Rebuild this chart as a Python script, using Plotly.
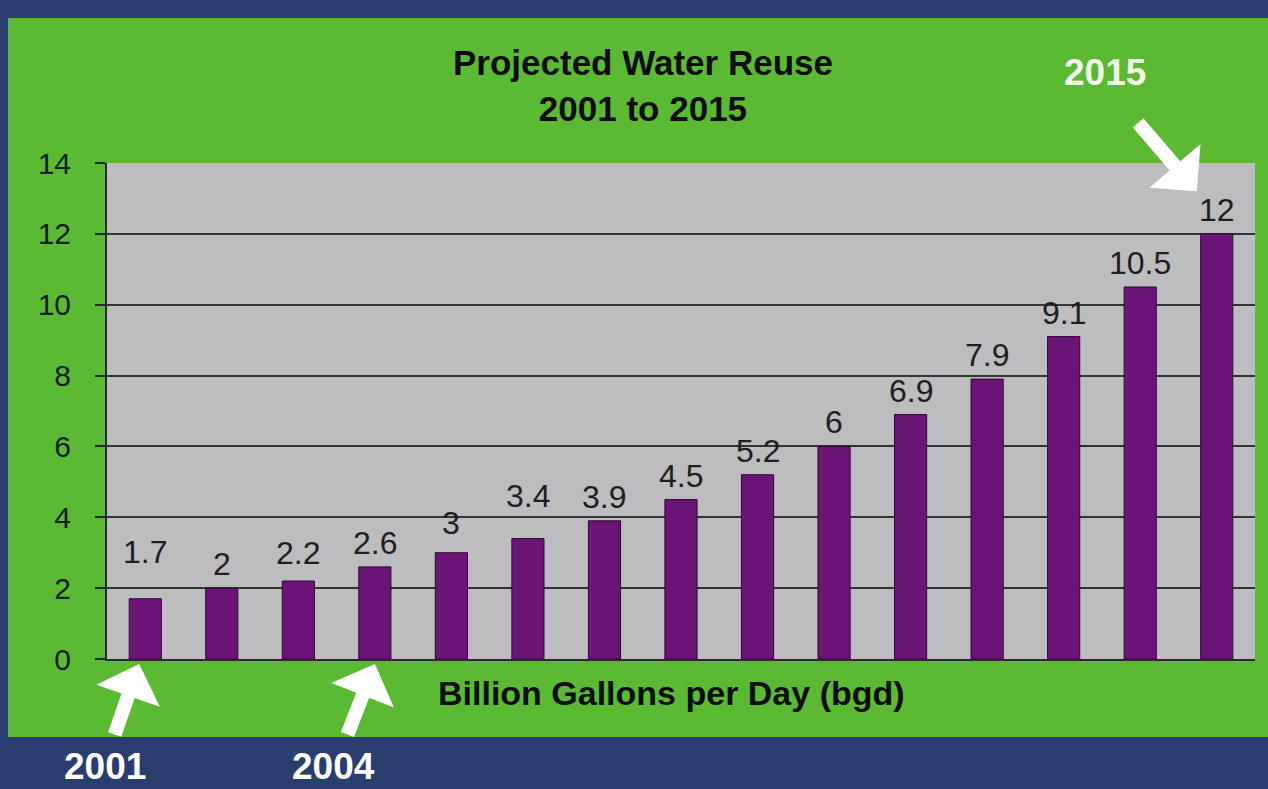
import plotly.graph_objects as go

# ---- data ----
years = [2001, 2002, 2003, 2004, 2005, 2006, 2007, 2008, 2009, 2010, 2011, 2012, 2013, 2014, 2015]
reuse_bgd = [1.7, 2, 2.2, 2.6, 3, 3.4, 3.9, 4.5, 5.2, 6, 6.9, 7.9, 9.1, 10.5, 12]
value_labels = ["1.7", "2", "2.2", "2.6", "3", "3.4", "3.9", "4.5", "5.2", "6", "6.9", "7.9", "9.1", "10.5", "12"]
y_ticks = [0, 2, 4, 6, 8, 10, 12, 14]
title_lines = ["Projected Water Reuse", "2001 to 2015"]
axis_title = "Billion Gallons per Day (bgd)"
highlight_years = [2001, 2004, 2015]

# ---- style ----
FONT = "Liberation Sans, Arial, sans-serif"
NAVY = "#293d6e"
GREEN = "#5bb934"
GRAY = "#bdbcbe"
PURPLE = "#6b1577"
DARK = "#1e1e1e"
label_nudge = [23, 0, 4, 0, 6, 19, 0, 0, 0, 0, 0, 0, 0, 0, 0]  # extra px lift per label

W_PLOT, H_PLOT, L, B0 = 1148, 496, 107, 659  # plot-area pixel geometry for decorations


def px(xp):
    return (xp - L) / W_PLOT


def py(yp):
    return (B0 - yp) / H_PLOT


fig = go.Figure()
fig.add_trace(go.Bar(
    x=years, y=reuse_bgd, width=0.42,
    marker=dict(color=PURPLE, line=dict(color="#2c0832", width=1)),
    hoverinfo="x+y",
))

# value labels
for yr, v, txt, nud in zip(years, reuse_bgd, value_labels, label_nudge):
    fig.add_annotation(x=yr, y=v, text=txt, showarrow=False, xref="x", yref="y",
                       xanchor="center", yanchor="middle", yshift=24 + nud,
                       font=dict(family=FONT, size=32, color=DARK))

# green panel + gray plot area
fig.add_shape(type="rect", xref="paper", yref="paper",
              x0=px(8), x1=px(1275), y0=py(737), y1=py(18),
              fillcolor=GREEN, line=dict(width=0), layer="below")
fig.add_shape(type="rect", xref="paper", yref="paper",
              x0=0, x1=1, y0=0, y1=1,
              fillcolor=GRAY, line=dict(width=0), layer="below")

# title
fig.add_annotation(xref="paper", yref="paper", x=px(643), y=py(85),
                   xanchor="center", yanchor="middle",
                   text="<b>" + "<br>".join(title_lines) + "</b>", showarrow=False,
                   font=dict(family=FONT, size=35, color="#0d0d0d"), align="center")
# axis title
fig.add_annotation(xref="paper", yref="paper", x=px(671), y=py(693),
                   xanchor="center", yanchor="middle",
                   text="<b>" + axis_title + "</b>", showarrow=False,
                   font=dict(family=FONT, size=34, color="#0d0d0d"))

# arrows & year callouts
arrow_style = dict(showarrow=True, arrowhead=1, arrowsize=0.8, arrowwidth=14,
                   arrowcolor="white", text="", axref="pixel", ayref="pixel")
fig.add_annotation(x=highlight_years[0] - 0.08, y=-0.01, xref="x", yref="paper",
                   ax=-25, ay=72, **arrow_style)
fig.add_annotation(x=highlight_years[1] - 0.0, y=-0.01, xref="x", yref="paper",
                   ax=-28, ay=72, **arrow_style)
fig.add_annotation(x=highlight_years[2] - 0.26, y=13.2, xref="x", yref="y",
                   ax=-60, ay=-70, **arrow_style)

yr_font = dict(family=FONT, size=37, color="white")
fig.add_annotation(xref="paper", yref="paper", x=px(105), y=py(766),
                   xanchor="center", yanchor="middle", borderpad=0,
                   text="<b>%d</b>" % highlight_years[0], showarrow=False, font=yr_font)
fig.add_annotation(xref="paper", yref="paper", x=px(333), y=py(766),
                   xanchor="center", yanchor="middle", borderpad=0,
                   text="<b>%d</b>" % highlight_years[1], showarrow=False, font=yr_font)
fig.add_annotation(xref="paper", yref="paper", x=px(1105), y=py(72),
                   xanchor="center", yanchor="middle",
                   text="<b>%d</b>" % highlight_years[2], showarrow=False,
                   font=dict(family=FONT, size=37, color="#f2fbea"))

fig.update_layout(
    width=1268, height=789,
    margin=dict(l=107, r=13, t=163, b=130, pad=0),
    paper_bgcolor=NAVY, plot_bgcolor=GRAY,
    showlegend=False, bargap=0.58,
    font=dict(family=FONT, color=DARK),
)
fig.update_xaxes(range=[2000.5, 2015.5], showticklabels=False, ticks="",
                 showgrid=False, zeroline=False, showline=True,
                 linecolor="#2a2a2a", linewidth=2)
fig.update_yaxes(range=[0, 14], tickvals=y_ticks, showgrid=True,
                 gridcolor="#333333", gridwidth=2, zeroline=False,
                 showline=True, linecolor="#2a2a2a", linewidth=2,
                 ticks="outside", ticklen=10, tickcolor="#2a2a2a", tickwidth=2,
                 ticklabelstandoff=18,
                 tickfont=dict(family=FONT, size=30, color="#142014"))

fig.write_html("out.html")
